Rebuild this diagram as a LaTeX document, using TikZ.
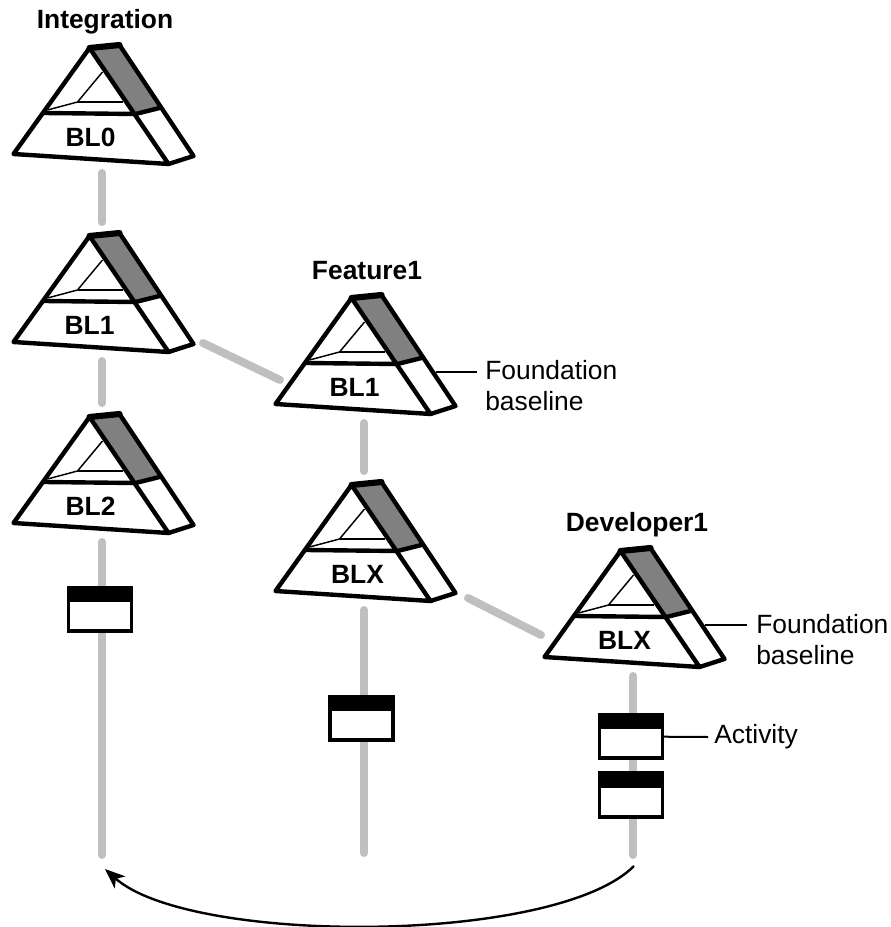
\documentclass[tikz,border=0pt]{standalone}
\usepackage{fontspec}
\setmainfont{Liberation Sans}
\usetikzlibrary{backgrounds,arrows.meta}

\definecolor{trunkgray}{HTML}{BFBFBF}
\definecolor{facegray}{HTML}{808080}

\tikzset{
  outline/.style={line width=3.3pt,line join=round,line cap=round},
  thinline/.style={line width=1.1pt},
  trunk/.style={line width=6pt,trunkgray,line cap=round},
  leader/.style={line width=1.5pt},
  title/.style={font=\fontsize{19.8}{24}\selectfont\bfseries,inner sep=0pt},
  remark/.style={font=\fontsize{19.8}{23.2}\selectfont,inner sep=0pt,align=left,anchor=west},
  barbox/.style={draw,line width=2.7pt,fill=white,minimum width=47pt,minimum height=32.6pt,inner sep=0pt,
    path picture={\fill[black] (path picture bounding box.north west) rectangle ([yshift=-10.7pt]path picture bounding box.north east);}},
  pics/pyramid/.style 2 args={code={
    \fill[white] (0,0) -- (30,-3) -- (104,108) -- (79,116) -- (-76,106) -- cycle;
    \fill[facegray] (0,0) -- (30,-3) -- (70,60) -- (46,66) -- cycle;
    \draw[thinline] (-42,62) -- (-12,54) -- (13,24);
    \draw[thinline] (-12,54) -- (33,54);
    \draw[outline] (0,0) -- (79,116) -- (-76,106) -- cycle;
    \draw[outline] (-45,65) -- (46,66) -- (70,60);
    \draw[outline] (30,-3) -- (104,108) -- (79,116);
    \draw[line width=4.6pt,line cap=round] (0,0) -- (30,-3);
    \node[title] (-label) at (#2,89) {#1};
    \coordinate (-head) at (12.5,-14);
    \coordinate (-foot) at (12.5,125);
    \coordinate (-side) at (84,74);
  }}
}

\begin{document}
\begin{tikzpicture}[x=0.75pt,y=-0.75pt]
\useasboundingbox (0,0) rectangle (891,927);

% nodes
\pic (bla) at (89.5,48) {pyramid={BL0}{1}};
\pic (blb) at (89.5,236) {pyramid={BL1}{0}};
\pic (blc) at (89.5,417) {pyramid={BL2}{1}};
\pic (fta) at (351.5,298) {pyramid={BL1}{3}};
\pic (ftb) at (351.5,485) {pyramid={BLX}{6}};
\pic (dev) at (620.5,551) {pyramid={BLX}{4}};

\node[title] (integration) at (105,22) {Integration};
\node[title] (feature) at (367,271) {Feature1};
\node[title] (developer) at (637,525) {Developer1};

\node[barbox] (acta) at (100,609.5) {};
\node[barbox] (actb) at (361.5,718.5) {};
\node[barbox] (actc) at (631,736.5) {};
\node[barbox] (actd) at (631,795) {};

\node[remark] (founda) at (485,386) {Foundation\\baseline};
\node[remark] (foundb) at (756,640) {Foundation\\baseline};
\node[remark] (activity) at (714,737) {Activity};

\coordinate (enda) at (102,855);
\coordinate (endb) at (364,853);
\coordinate (endc) at (633,855);
\coordinate (crossa) at (203,343);
\coordinate (crossb) at (280,380);
\coordinate (crossc) at (468,598);
\coordinate (crossd) at (541,635);
\coordinate (arca) at (634,866);
\coordinate (arcb) at (105,869);
\coordinate (ticka) at (477,372);
\coordinate (tickb) at (747,625);
\coordinate (tickc) at (708,737);

% arrows
\begin{scope}[on background layer]
\draw[trunk] (bla-foot) -- (blb-head);
\draw[trunk] (blb-foot) -- (blc-head);
\draw[trunk] (blc-foot) -- (enda);
\draw[trunk] (crossa) -- (crossb);
\draw[trunk] (fta-foot) -- (ftb-head);
\draw[trunk] (ftb-foot) -- (endb);
\draw[trunk] (crossc) -- (crossd);
\draw[trunk] (dev-foot) -- (endc);
\end{scope}

\draw[leader] (fta-side) -- (ticka);
\draw[leader] (dev-side) -- (tickb);
\draw[leader] (actc) -- (tickc);
\draw[line width=1.8pt,-{Stealth[length=15pt,width=12pt,inset=4pt]}] (arca) .. controls (555,945) and (190,945) .. (arcb);
\end{tikzpicture}
\end{document}
